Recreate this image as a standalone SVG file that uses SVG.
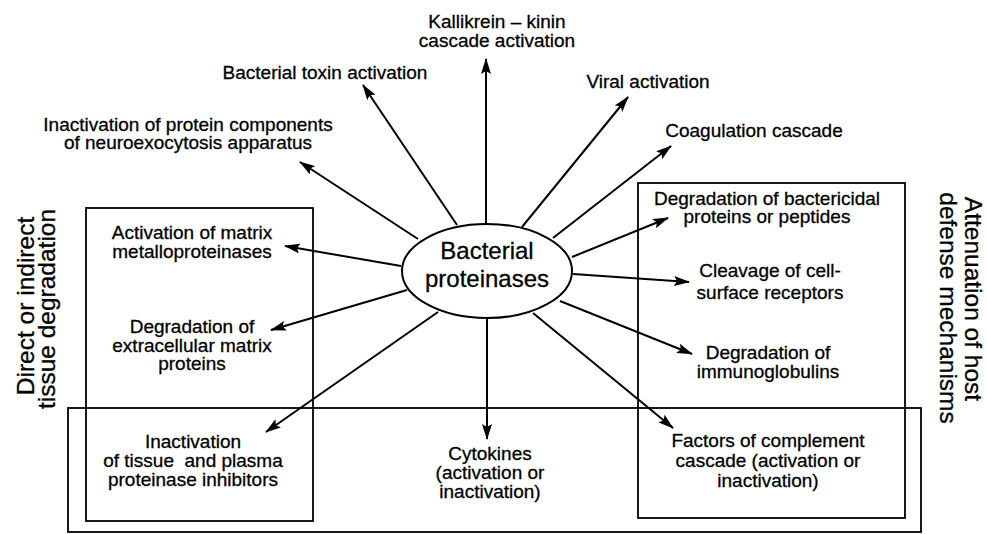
<svg xmlns="http://www.w3.org/2000/svg" width="987" height="534" viewBox="0 0 987 534">
<defs>
<marker id="ah" viewBox="0 0 16 10" markerWidth="16" markerHeight="10" refX="15" refY="5" orient="auto" markerUnits="userSpaceOnUse">
<path d="M0,0 L16,5 L0,10 L3,5 z" fill="#000"/>
</marker>
<style>
.lbl{font-family:"Liberation Sans",Arial,sans-serif;font-size:19px;fill:#000;stroke:#000;stroke-width:0.3;text-anchor:middle}
.big{font-family:"Liberation Sans",Arial,sans-serif;font-size:24.5px;fill:#000;stroke:#000;stroke-width:0.3;text-anchor:middle}
.box{fill:none;stroke:#000;stroke-width:1.8}
.arr{fill:none;stroke:#000;stroke-width:2;marker-end:url(#ah)}
</style>
</defs>
<rect width="987" height="534" fill="#fff"/>

<g id="groups">
<rect id="box_tissue" class="box" x="86" y="208" width="227" height="313"/>
<rect id="box_host" class="box" x="638" y="183" width="267" height="335"/>
<rect id="box_bottom" class="box" x="68" y="408" width="853" height="124"/>
<text class="big" transform="translate(34,306) rotate(-90)">Direct or indirect</text>
<text class="big" transform="translate(55,309) rotate(-90)">tissue degradation</text>
<text class="big" transform="translate(965,299) rotate(90)">Attenuation of host</text>
<text class="big" transform="translate(940,308) rotate(90)">defense mechanisms</text>
</g>

<g id="connectors">
<line class="arr" x1="418" y1="239" x2="300" y2="162"/>
<line class="arr" x1="457" y1="225" x2="363" y2="85"/>
<line class="arr" x1="486" y1="224" x2="486" y2="59"/>
<line class="arr" x1="522" y1="227" x2="628" y2="97"/>
<line class="arr" x1="553" y1="238" x2="671" y2="146"/>
<line class="arr" x1="572" y1="257" x2="668" y2="218"/>
<line class="arr" x1="573" y1="274" x2="689" y2="282"/>
<line class="arr" x1="560" y1="301" x2="692" y2="354"/>
<line class="arr" x1="533" y1="313" x2="673" y2="428"/>
<line class="arr" x1="487" y1="318" x2="487" y2="439"/>
<line class="arr" x1="438" y1="312" x2="266" y2="432"/>
<line class="arr" x1="407" y1="290" x2="271" y2="330"/>
<line class="arr" x1="401" y1="266" x2="285" y2="246"/>
</g>

<g id="center">
<ellipse cx="487" cy="271" rx="85" ry="47" fill="#fff" stroke="#000" stroke-width="2"/>
<text class="big" x="487" y="259" style="font-size:24px">Bacterial</text>
<text class="big" x="487" y="287" style="font-size:24px">proteinases</text>
</g>

<g id="n_neuro"><text class="lbl" x="188" y="131">Inactivation of protein components</text><text class="lbl" x="188" y="149">of neuroexocytosis apparatus</text></g>
<g id="n_toxin"><text class="lbl" x="325" y="79">Bacterial toxin activation</text></g>
<g id="n_kallikrein"><text class="lbl" x="497" y="28">Kallikrein – kinin</text><text class="lbl" x="497" y="47">cascade activation</text></g>
<g id="n_viral"><text class="lbl" x="648" y="88">Viral activation</text></g>
<g id="n_coag"><text class="lbl" x="754" y="137">Coagulation cascade</text></g>
<g id="n_bactericidal"><text class="lbl" x="767" y="205">Degradation of bactericidal</text><text class="lbl" x="767" y="223">proteins or peptides</text></g>
<g id="n_cleavage"><text class="lbl" x="770" y="277">Cleavage of cell-</text><text class="lbl" x="770" y="299">surface receptors</text></g>
<g id="n_immuno"><text class="lbl" x="768" y="359">Degradation of</text><text class="lbl" x="768" y="378">immunoglobulins</text></g>
<g id="n_complement"><text class="lbl" x="768" y="447">Factors of complement</text><text class="lbl" x="768" y="467">cascade (activation or</text><text class="lbl" x="768" y="487">inactivation)</text></g>
<g id="n_cytokines"><text class="lbl" x="490" y="460">Cytokines</text><text class="lbl" x="490" y="479">(activation or</text><text class="lbl" x="490" y="498">inactivation)</text></g>
<g id="n_inhibitors"><text class="lbl" x="193" y="448">Inactivation</text><text class="lbl" x="193" y="467" xml:space="preserve">of tissue  and plasma</text><text class="lbl" x="193" y="486">proteinase inhibitors</text></g>
<g id="n_ecm"><text class="lbl" x="192" y="333">Degradation of</text><text class="lbl" x="192" y="352">extracellular matrix</text><text class="lbl" x="192" y="370">proteins</text></g>
<g id="n_mmp"><text class="lbl" x="192" y="239">Activation of matrix</text><text class="lbl" x="192" y="258">metalloproteinases</text></g>
</svg>
